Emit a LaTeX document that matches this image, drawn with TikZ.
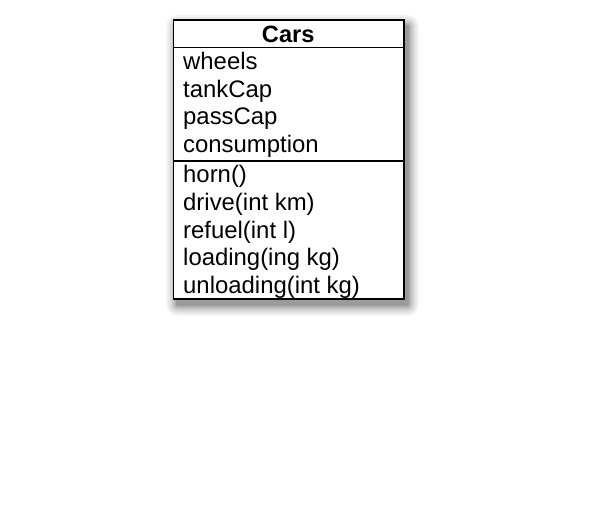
\documentclass[tikz,border=0pt]{standalone}
\usepackage{fontspec}
\setmainfont{Liberation Sans}
\begin{document}
\begin{tikzpicture}[x=1pt,y=-1pt,
  member/.style={anchor=base west,inner sep=0pt,font=\fontsize{23.9}{27}\selectfont},
  title/.style={anchor=base,inner sep=0pt,font=\fontsize{23.6}{27}\selectfont\bfseries},
  border/.style={line width=1.5pt,draw=black}]
\useasboundingbox (0,0) rectangle (615,505);
% soft shadow
\foreach \r/\o in {11/0.04,9/0.05,7/0.06,5/0.08,3/0.1,1/0.14}{
  \fill[black,opacity=\o,rounded corners=\r pt] (177-\r,26-\r) rectangle (408+\r,305+\r);
}
\fill[white] (173.3,20) rectangle (404,299);
\draw[border] (173.3,20) coordinate (tl) rectangle (404,299) coordinate (br);
\coordinate (s1l) at (173.3,47.7); \coordinate (s1r) at (404,47.7);
\coordinate (s2l) at (173.3,161); \coordinate (s2r) at (404,161);
\draw[border] (s1l) -- (s1r);
\draw[border] (s2l) -- (s2r);
\node[title] (cars) at (288.2,42.3) {Cars};
\node[member] (a1) at (183,69.3) {wheels};
\node[member] (a2) at (183,97.2) {tankCap};
\node[member] (a3) at (183,125) {passCap};
\node[member] (a4) at (183,152.7) {consumption};
\node[member] (m1) at (183,182.7) {horn()};
\node[member] (m2) at (183,210.4) {drive(int km)};
\node[member] (m3) at (183,238.1) {refuel(int l)};
\node[member] (m4) at (183,265.7) {loading(ing kg)};
\node[member] (m5) at (183,293.3) {unloading(int kg)};
\end{tikzpicture}
\end{document}
